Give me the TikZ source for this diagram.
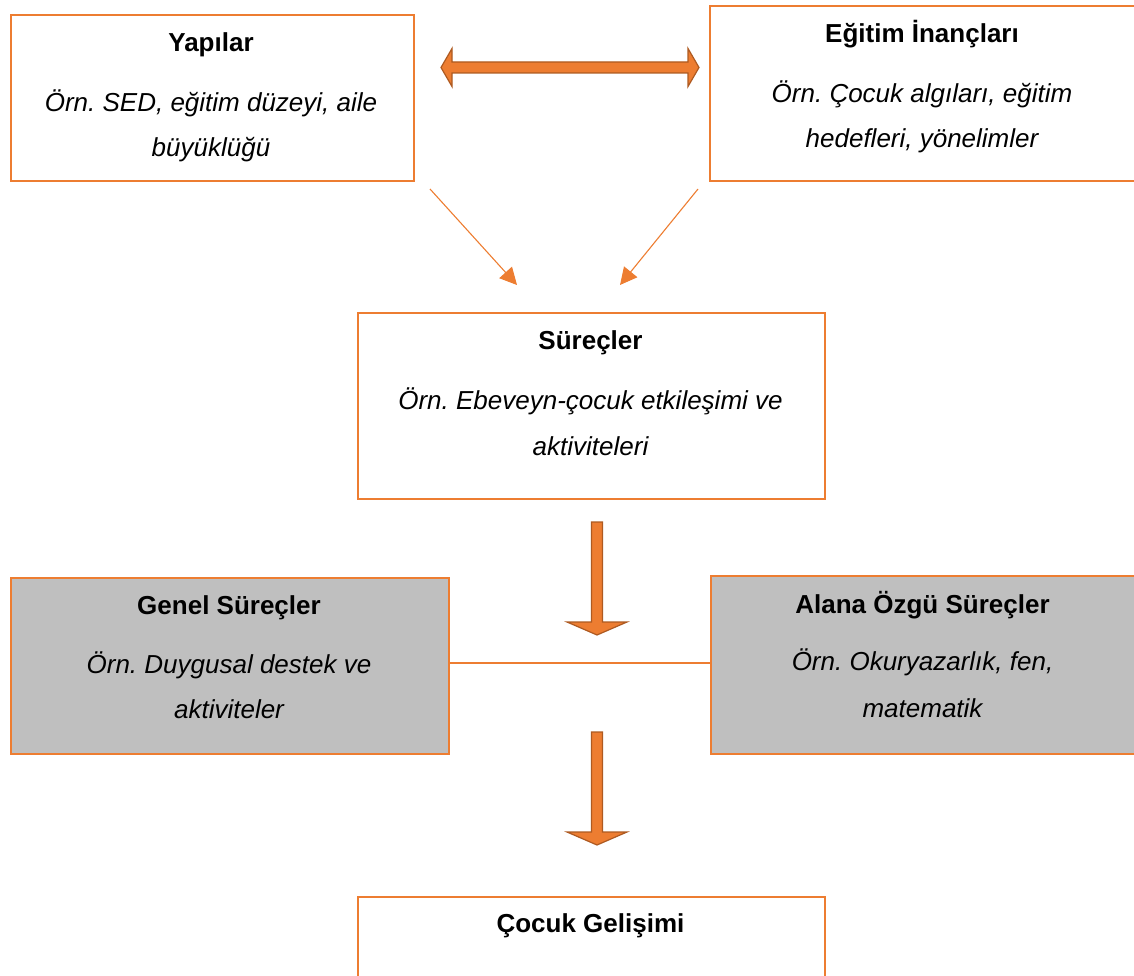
\documentclass[tikz,border=0pt]{standalone}
\usepackage{fontspec}
\setmainfont{Liberation Sans}
\frenchspacing
\usetikzlibrary{arrows.meta,calc}
\definecolor{borderorange}{HTML}{ED7D31}
\definecolor{arrowedge}{HTML}{AE5A21}
\definecolor{panelgray}{HTML}{BFBFBF}
\tikzset{
  box/.style={draw=borderorange, line width=2pt, fill=white, inner sep=0pt, anchor=north west},
  graybox/.style={box, fill=panelgray},
  title/.style={anchor=base, inner sep=0pt, font=\fontsize{26}{30}\selectfont\bfseries},
  example/.style={anchor=base, inner sep=0pt, font=\fontsize{26}{30}\selectfont\itshape},
  thinarrow/.style={draw=borderorange, line width=1.1pt, -{Triangle[length=17pt,width=17pt]}},
  blockarrow/.style={fill=borderorange, draw=arrowedge, line width=1.2pt, line join=miter},
  link/.style={draw=borderorange, line width=1.3pt}
}
\begin{document}
\begin{tikzpicture}[x=1pt,y=-1pt]
  \useasboundingbox (0,0) rectangle (1134,976);

  % boxes
  \node[box, minimum width=403pt, minimum height=166pt] (yap) at (10,14) {};
  \node[box, minimum width=426pt, minimum height=175pt] (inc) at (709,5) {};
  \node[box, minimum width=467pt, minimum height=186pt] (sur) at (357,312) {};
  \node[graybox, minimum width=438pt, minimum height=176pt] (gen) at (10,577) {};
  \node[graybox, minimum width=426pt, minimum height=178pt] (ala) at (710,575) {};
  \node[box, minimum width=467pt, minimum height=80pt] (coc) at (357,896) {};

  % texts
  \node[title]   (yapT)  at (211,52)  {Yapılar};
  \node[example] (yapA)  at (211,112) {Örn. SED, eğitim düzeyi, aile};
  \node[example] (yapB)  at (211,157) {büyüklüğü};

  \node[title]   (incT)  at (922,43)  {Eğitim İnançları};
  \node[example] (incA)  at (922,103) {Örn. Çocuk algıları, eğitim};
  \node[example] (incB)  at (922,148) {hedefleri, yönelimler};

  \node[title]   (surT)  at (590.5,349) {Süreçler};
  \node[example] (surA)  at (590.5,409) {Örn. Ebeveyn-çocuk etkileşimi ve};
  \node[example] (surB)  at (590.5,455) {aktiviteleri};

  \node[title]   (genT)  at (229,614) {Genel Süreçler};
  \node[example] (genA)  at (229,673) {Örn. Duygusal destek ve};
  \node[example] (genB)  at (229,718) {aktiviteler};

  \node[title]   (alaT)  at (922.5,613) {Alana Özgü Süreçler};
  \node[example] (alaA)  at (922.5,670) {Örn. Okuryazarlık, fen,};
  \node[example] (alaB)  at (922.5,717) {matematik};

  \node[title]   (cocT)  at (590.5,932) {Çocuk Gelişimi};

  % two-headed block arrow between the upper boxes
  \coordinate (dl) at (441,67.5);
  \coordinate (dr) at (699,67.5);
  \path[blockarrow] (dl) -- ++(11,-19) -- ++(0,13.5) -- ($(dr)+(-11,-5.5)$)
    -- ++(0,-13.5) -- (dr) -- ++(-11,19) -- ++(0,-13.5) -- ($(dl)+(11,5.5)$)
    -- ++(0,13.5) -- cycle;

  % thin arrows into the process box
  \coordinate (yapOut) at (430,189);
  \coordinate (incOut) at (698,189);
  \coordinate (surInL) at (517,285);
  \coordinate (surInR) at (620,285);
  \draw[thinarrow] (yapOut) -- (surInL);
  \draw[thinarrow] (incOut) -- (surInR);

  % link between the two process kinds
  \draw[link] (gen.east |- 0,663) -- (ala.west |- 0,663);

  % downward block arrows
  \coordinate (d1) at (597,522);
  \coordinate (d2) at (597,732);
  \foreach \c/\len in {d1/100, d2/100} {
    \path[blockarrow] ($(\c)+(-5.5,0)$) -- ++(11,0) -- ++(0,\len) -- ++(24.5,0)
      -- ++(-30,13) -- ++(-30,-13) -- ++(24.5,0) -- cycle;
  }
\end{tikzpicture}
\end{document}
